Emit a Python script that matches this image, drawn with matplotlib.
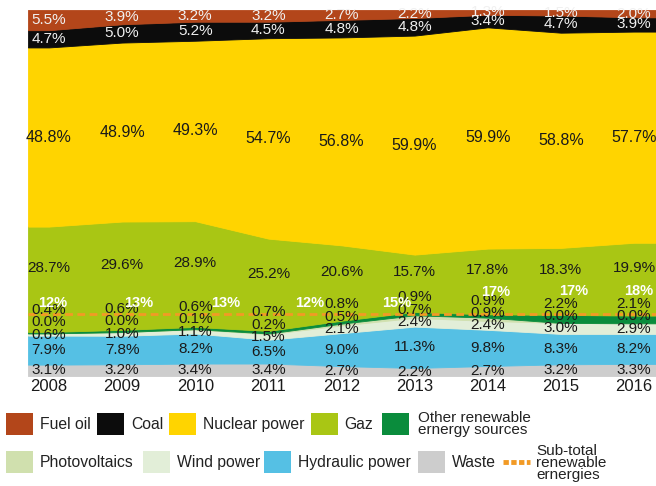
import numpy as np
import matplotlib
matplotlib.use('Agg')
import matplotlib.pyplot as plt
from matplotlib.patches import Rectangle
from matplotlib.lines import Line2D

plt.rcParams['font.family'] = ['Liberation Sans', 'DejaVu Sans']

# Data (% of electricity production), stacked from bottom to top
years = [2008, 2009, 2010, 2011, 2012, 2013, 2014, 2015, 2016]
waste = [3.1, 3.2, 3.4, 3.4, 2.7, 2.2, 2.7, 3.2, 3.3]
hydraulic = [7.9, 7.8, 8.2, 6.5, 9.0, 11.3, 9.8, 8.3, 8.2]
wind = [0.6, 1.0, 1.1, 1.5, 2.1, 2.4, 2.4, 3.0, 2.9]
photovoltaics = [0.0, 0.0, 0.1, 0.2, 0.5, 0.7, 0.9, 0.0, 0.0]
other_renewable = [0.4, 0.6, 0.6, 0.7, 0.8, 0.9, 0.9, 2.2, 2.1]
gaz = [28.7, 29.6, 28.9, 25.2, 20.6, 15.7, 17.8, 18.3, 19.9]
nuclear = [48.8, 48.9, 49.3, 54.7, 56.8, 59.9, 59.9, 58.8, 57.7]
coal = [4.7, 5.0, 5.2, 4.5, 4.8, 4.8, 3.4, 4.7, 3.9]
fuel_oil = [5.5, 3.9, 3.2, 3.2, 2.7, 2.2, 1.3, 1.5, 2.0]

subtotal_labels = ['12%', '13%', '13%', '12%', '15%', '17%', '17%', '18%']
subtotal_ref = 17

# label placement for the sub-total values (x in years, y in %)
subtotal_x = [2008.05, 2009.22, 2010.41, 2011.57, 2012.75, 2014.11, 2015.18, 2016.07]
subtotal_y = [19.9, 19.9, 19.9, 19.9, 19.9, 22.9, 23.3, 23.3]

series = [waste, hydraulic, wind, photovoltaics, other_renewable, gaz, nuclear, coal, fuel_oil]
colors = ['#cdcdcd', '#55c0e4', '#e2eed8', '#d0e0ae', '#0a8c3c', '#a9c614', '#ffd400', '#0c0c0c', '#b3461a']
text_colors = ['#1a1a1a'] * 7 + ['#f0f0f0', '#f0f0f0']
text_sizes = [11] * 6 + [11.5, 11, 11]

vals = np.array(series, dtype=float)
shares = vals / vals.sum(axis=0) * 100
cum = np.cumsum(shares, axis=0)
centers = cum - shares / 2

fig = plt.figure(figsize=(6.56, 4.86), dpi=100)
ax = fig.add_axes([28/656, 110/486, 628/656, 366/486])

x0, x1 = 2007.713, 2016.301
xs = np.concatenate([[x0], years, [x1]])
padded = np.pad(shares, ((0, 0), (1, 1)), mode='edge')
polys = ax.stackplot(xs, *padded, colors=colors, linewidth=0.6)
for p, c in zip(polys, colors):
    p.set_edgecolor(c)

ax.axhline(subtotal_ref, color='#f29a25', lw=2, ls=(0, (2.8, 1.6)), zorder=5)

# value labels
gap = 3.4
for j in range(len(years)):
    prev = -10
    for i in range(len(series)):
        y = centers[i, j]
        if i < 5:
            y = max(y, prev + gap)
            prev = y
        elif i == 5:
            y = y + 3
        ax.text(years[j], y, '%.1f%%' % vals[i, j], ha='center', va='center',
                fontsize=text_sizes[i], color=text_colors[i], zorder=6)

for lab, x, y in zip(subtotal_labels, subtotal_x, subtotal_y):
    ax.text(x, y, lab, ha='center', va='center', fontsize=10.5, color='white',
            fontweight='bold', zorder=7)

ax.set_xlim(x0, x1)
ax.set_ylim(0, 100)
ax.set_xticks(years)
ax.set_xticklabels([str(y) for y in years], fontsize=12, color='#1a1a1a')
ax.tick_params(axis='x', length=0, pad=2)
ax.set_yticks([])
for s in ax.spines.values():
    s.set_visible(False)

# legend drawn in pixel coordinates
lax = fig.add_axes([0, 0, 1, 1], zorder=-1)
lax.set_xlim(0, 656)
lax.set_ylim(486, 0)
lax.axis('off')

legend_items = [
    ('Fuel oil', colors[8], 6, 40, 424),
    ('Coal', colors[7], 97, 131, 424),
    ('Nuclear power', colors[6], 169, 203, 424),
    ('Gaz', colors[5], 311, 344, 424),
    ('Other renewable\nernergy sources', colors[4], 382, 418, 424),
    ('Photovoltaics', colors[3], 6, 40, 462),
    ('Wind power', colors[2], 143, 177, 462),
    ('Hydraulic power', colors[1], 264, 298, 462),
    ('Waste', colors[0], 418, 452, 462),
]
for name, c, xs_, xt, yc in legend_items:
    lax.add_patch(Rectangle((xs_, yc - 11), 27, 22, color=c, lw=0))
    lax.text(xt, yc, name, ha='left', va='center', fontsize=11.3 if '\n' not in name else 11,
             color='#222222', linespacing=0.78)

lax.add_line(Line2D([503, 530], [462, 462], color='#f29a25', lw=3.5, ls=(0, (1.1, 0.5))))
lax.text(536, 463, 'Sub-total\nrenewable\nernergies', ha='left', va='center', fontsize=11,
         color='#222222', linespacing=0.78)

fig.savefig('out.png', dpi=100)
